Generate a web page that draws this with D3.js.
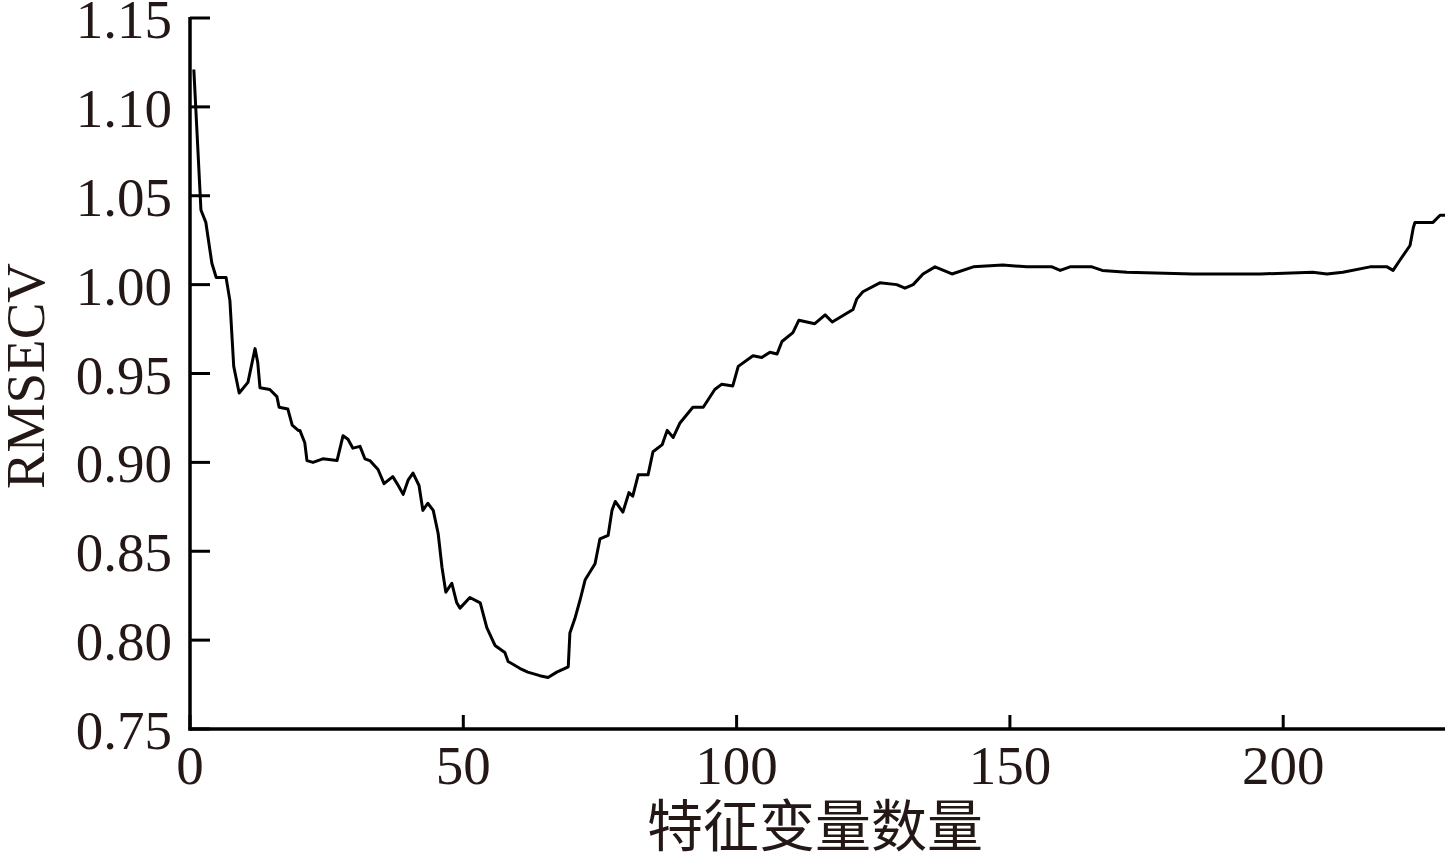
<!DOCTYPE html>
<html>
<head>
<meta charset="utf-8">
<script src="https://cdn.jsdelivr.net/npm/d3@7"></script>
<style>
  html, body { margin: 0; padding: 0; background: #fff; }
  svg { display: block; }
</style>
</head>
<body>
<svg id="chart" width="1445" height="859"></svg>
<script>
// Number of feature variables (x) and RMSECV (y)
const featureCounts = [
  0.7, 2.0, 2.9, 4.0, 4.8, 6.6, 7.3, 8.0, 9.0, 10.6, 11.9, 12.4, 12.8, 14.6, 15.9, 16.3, 17.9, 18.7, 19.8,
  20.1, 21.0, 21.4, 22.5, 24.3, 26.9, 28.0, 28.9, 29.8, 31.1, 32.0, 32.9, 34.4, 35.5, 37.1, 38.1, 39.0,
  39.9, 40.8, 41.9, 42.6, 43.5, 44.5, 45.4, 46.1, 46.8, 47.9, 48.8, 49.4, 51.2, 53.1, 54.3, 55.8, 57.6,
  58.2, 60.4, 61.8, 64.0, 65.5, 67.1, 69.2, 69.5, 70.4, 71.4, 72.3, 74.1, 75.0, 76.5, 77.2, 77.8, 79.2,
  80.3, 81.0, 82.0, 83.8, 84.7, 86.4, 87.3, 88.4, 89.6, 92.0, 93.9, 96.0, 97.3, 99.3, 100.3, 103.0,
  104.6, 106.1, 107.4, 108.3, 110.3, 111.4, 114.3, 116.2, 117.5, 121.3, 122.0, 123.1, 126.2, 129.3,
  130.8, 132.3, 134.1, 136.3, 139.4, 143.3, 148.7, 153.1, 157.7, 159.2, 161.0, 165.0, 166.9, 171.4,
  183.5, 195.8, 205.4, 208.0, 210.9, 215.9, 219.0, 220.1, 221.4, 223.2, 223.8, 224.1, 227.4, 228.7, 229.6
];
const rmsecv = [
  1.121, 1.042, 1.035, 1.012, 1.004, 1.004, 0.991, 0.954, 0.939, 0.945, 0.964, 0.956, 0.942, 0.941, 0.937, 0.931, 0.930, 0.921, 0.918,
  0.918, 0.911, 0.901, 0.900, 0.902, 0.901, 0.915, 0.913, 0.908, 0.909, 0.902, 0.901, 0.896, 0.888, 0.892, 0.887, 0.882,
  0.890, 0.894, 0.887, 0.873, 0.877, 0.873, 0.860, 0.841, 0.827, 0.832, 0.821, 0.818, 0.824, 0.821, 0.807, 0.797, 0.793,
  0.788, 0.784, 0.782, 0.780, 0.779, 0.782, 0.785, 0.804, 0.812, 0.823, 0.834, 0.843, 0.857, 0.859, 0.873, 0.878, 0.872,
  0.883, 0.881, 0.893, 0.893, 0.906, 0.910, 0.918, 0.914, 0.922, 0.931, 0.931, 0.941, 0.944, 0.943, 0.954, 0.960,
  0.959, 0.962, 0.961, 0.968, 0.973, 0.980, 0.978, 0.983, 0.979, 0.986, 0.992, 0.996, 1.001, 1.000,
  0.998, 1.000, 1.006, 1.010, 1.006, 1.010, 1.011, 1.010, 1.010, 1.008, 1.010, 1.010, 1.008, 1.007,
  1.006, 1.006, 1.007, 1.006, 1.007, 1.010, 1.010, 1.008, 1.014, 1.022, 1.032, 1.035, 1.035, 1.039, 1.039
];
const xTicks = [0, 50, 100, 150, 200];
const yTicks = [0.75, 0.80, 0.85, 0.90, 0.95, 1.00, 1.05, 1.10, 1.15];
const xTitle = "特征变量数量";
const yTitle = "RMSECV";

(function () {
  const svg = d3.select("#chart");
  const ink = "#231815";
  const serif = "'Liberation Serif', 'Times New Roman', serif";

  const mLeft = 190, mRight = 1445, mTop = 18, mBottom = 729;
  const x = d3.scaleLinear().domain([0, 229.6]).range([mLeft, mRight]);
  const y = d3.scaleLinear().domain([0.75, 1.15]).range([mBottom, mTop]);

  // Axes lines
  svg.append("line").attr("x1", mLeft).attr("x2", mLeft).attr("y1", mTop - 1).attr("y2", mBottom + 1.5)
    .attr("stroke", "#000").attr("stroke-width", 3.5);
  svg.append("line").attr("x1", mLeft - 1.5).attr("x2", mRight).attr("y1", mBottom).attr("y2", mBottom)
    .attr("stroke", "#000").attr("stroke-width", 3.5);

  // Y ticks (inward)
  svg.selectAll(".ytick").data(yTicks).enter().append("line")
    .attr("x1", mLeft).attr("x2", mLeft + 20)
    .attr("y1", d => y(d)).attr("y2", d => y(d))
    .attr("stroke", "#000").attr("stroke-width", 3);
  svg.selectAll(".ylab").data(yTicks).enter().append("text")
    .attr("x", 172).attr("y", d => y(d) + 20)
    .attr("text-anchor", "end")
    .attr("font-family", serif).attr("font-size", 55).attr("fill", ink)
    .text(d => d.toFixed(2));

  // X ticks (inward)
  svg.selectAll(".xtick").data(xTicks).enter().append("line")
    .attr("x1", d => x(d)).attr("x2", d => x(d))
    .attr("y1", mBottom).attr("y2", mBottom - 14)
    .attr("stroke", "#000").attr("stroke-width", 3);
  svg.selectAll(".xlab").data(xTicks).enter().append("text")
    .attr("x", d => x(d)).attr("y", 784)
    .attr("text-anchor", "middle")
    .attr("font-family", serif).attr("font-size", 55).attr("fill", ink)
    .text(d => d);

  // Titles
  svg.append("text")
    .attr("transform", "translate(44,376) rotate(-90)")
    .attr("text-anchor", "middle")
    .attr("font-family", serif).attr("font-size", 55).attr("fill", ink)
    .text(yTitle);
  svg.append("text")
    .attr("x", 815).attr("y", 846)
    .attr("text-anchor", "middle")
    .attr("font-family", "'Noto Sans CJK SC', sans-serif").attr("font-size", 56).attr("fill", ink)
    .text(xTitle);

  // Line
  const pts = featureCounts.map((d, i) => [d, rmsecv[i]]);
  svg.append("path")
    .datum(pts)
    .attr("fill", "none").attr("stroke", "#000").attr("stroke-width", 3)
    .attr("stroke-linejoin", "round")
    .attr("d", d3.line().x(d => x(d[0])).y(d => y(d[1])));
})();
</script>
</body>
</html>
